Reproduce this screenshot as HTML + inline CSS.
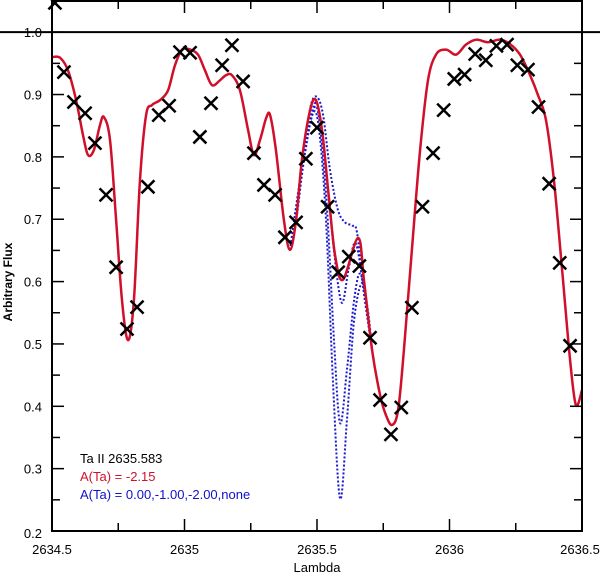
<!DOCTYPE html>
<html><head><meta charset="utf-8"><style>
html,body{margin:0;padding:0;background:#fff;}
svg{display:block;font-family:"Liberation Sans",sans-serif;}
</style></head><body>
<svg id="chart" width="600" height="575" viewBox="0 0 600 575" xmlns="http://www.w3.org/2000/svg">
<g id="marks"></g>
<g id="axes"></g>
<text transform="translate(12,282) rotate(-90)" text-anchor="middle" font-size="12" font-weight="bold">Arbitrary Flux</text>
<text x="317" y="572" text-anchor="middle" font-size="13">Lambda</text>
<text x="80" y="463" font-size="13" fill="#000">Ta II 2635.583</text>
<text x="80" y="481" font-size="13" fill="#d0102a">A(Ta) = -2.15</text>
<text x="80" y="499" font-size="13" fill="#1010cc">A(Ta) = 0.00,-1.00,-2.00,none</text>
</svg>
<script>
const obsX=[2634.511,2634.545,2634.583,2634.625,2634.662,2634.704,2634.742,2634.783,2634.821,2634.862,2634.903,2634.942,2634.983,2635.021,2635.058,2635.100,2635.142,2635.179,2635.221,2635.262,2635.300,2635.342,2635.379,2635.421,2635.458,2635.500,2635.540,2635.580,2635.620,2635.660,2635.700,2635.738,2635.779,2635.818,2635.858,2635.898,2635.938,2635.978,2636.018,2636.057,2636.097,2636.137,2636.177,2636.217,2636.256,2636.296,2636.336,2636.376,2636.416,2636.455];
const obsY=[1.047,.936,.888,.870,.822,.739,.623,.524,.559,.752,.867,.882,.968,.967,.832,.886,.947,.979,.921,.806,.755,.739,.671,.695,.797,.847,.72,.615,.64,.625,.51,.41,.355,.398,.558,.72,.806,.875,.925,.932,.965,.955,.978,.98,.947,.94,.88,.757,.63,.497];
const fitX=[2634.500,2634.530,2634.560,2634.591,2634.617,2634.636,2634.658,2634.681,2634.696,2634.719,2634.742,2634.764,2634.787,2634.809,2634.832,2634.855,2634.877,2634.908,2634.938,2634.964,2634.991,2635.021,2635.051,2635.077,2635.104,2635.134,2635.157,2635.179,2635.209,2635.240,2635.262,2635.285,2635.308,2635.323,2635.345,2635.375,2635.398,2635.421,2635.443,2635.474,2635.496,2635.519,2635.542,2635.568,2635.598,2635.655,2635.677,2635.708,2635.738,2635.760,2635.783,2635.806,2635.828,2635.858,2635.889,2635.919,2635.949,2635.987,2636.025,2636.062,2636.100,2636.145,2636.191,2636.228,2636.266,2636.304,2636.334,2636.364,2636.394,2636.425,2636.455,2636.477,2636.500];
const fitY=[.960,.959,.939,.891,.835,.803,.811,.851,.864,.827,.699,.570,.506,.570,.763,.867,.883,.891,.907,.947,.972,.972,.964,.939,.915,.923,.931,.931,.907,.843,.803,.827,.862,.867,.811,.699,.651,.699,.795,.875,.891,.843,.747,.643,.603,.670,.603,.490,.418,.386,.370,.394,.490,.651,.811,.923,.964,.972,.964,.980,.988,.984,.988,.981,.964,.931,.899,.859,.763,.619,.474,.402,.426];
const noneX=[2635.398,2635.421,2635.451,2635.477,2635.500,2635.523,2635.549,2635.579,2635.606,2635.632,2635.651,2635.674,2635.708];
const noneY=[.651,.699,.811,.883,.896,.867,.779,.715,.695,.690,.679,.591,.490];
const m0X=[2635.398,2635.421,2635.451,2635.485,2635.508,2635.534,2635.560,2635.587,2635.613,2635.640,2635.670,2635.692,2635.708];
const m0Y=[.651,.697,.795,.870,.843,.699,.442,.252,.377,.538,.598,.554,.490];
const m1X=[2635.398,2635.451,2635.489,2635.511,2635.538,2635.564,2635.587,2635.613,2635.640,2635.662,2635.685,2635.708];
const m1Y=[.651,.800,.878,.851,.715,.506,.373,.458,.570,.613,.570,.490];
const m2X=[2635.398,2635.451,2635.492,2635.515,2635.542,2635.568,2635.594,2635.619,2635.645,2635.674,2635.708];
const m2Y=[.651,.805,.886,.851,.747,.635,.566,.619,.662,.595,.490];
const xTicks=[2634.5,2635,2635.5,2636,2636.5];
const xTickLabels=["2634.5","2635","2635.5","2636","2636.5"];
const yTicks=[0.2,0.3,0.4,0.5,0.6,0.7,0.8,0.9,1.0];
const yTickLabels=["0.2","0.3","0.4","0.5","0.6","0.7","0.8","0.9","1.0"];

const L=52,R=582,T=1,B=531,X0=2634.5,X1=2636.5,Y0=0.2,Y1=1.05;
const sx=v=>L+(v-X0)/(X1-X0)*(R-L);
const sy=v=>B-(v-Y0)/(Y1-Y0)*(B-T);
const NS="http://www.w3.org/2000/svg";
const marks=document.getElementById('marks'),axes=document.getElementById('axes');
function mk(tag,attrs,parent){const e=document.createElementNS(NS,tag);for(const k in attrs)e.setAttribute(k,attrs[k]);parent.appendChild(e);return e;}
function smooth(xs,ys){
  const p=xs.map((x,i)=>[sx(x),sy(ys[i])]);
  let d='M'+p[0][0].toFixed(1)+','+p[0][1].toFixed(1);
  for(let i=0;i<p.length-1;i++){
    const a=p[Math.max(0,i-1)],b=p[i],c=p[i+1],e=p[Math.min(p.length-1,i+2)];
    const c1=[b[0]+(c[0]-a[0])/6,b[1]+(c[1]-a[1])/6],c2=[c[0]-(e[0]-b[0])/6,c[1]-(e[1]-b[1])/6];
    d+='C'+c1[0].toFixed(1)+','+c1[1].toFixed(1)+' '+c2[0].toFixed(1)+','+c2[1].toFixed(1)+' '+c[0].toFixed(1)+','+c[1].toFixed(1);
  }
  return d;
}
const clip=mk('clipPath',{id:'pc'},marks);mk('rect',{x:L,y:T,width:R-L,height:B-T},clip);
const g=mk('g',{'clip-path':'url(#pc)'},marks);
const blues=[[noneX,noneY,'model-none'],[m0X,m0Y,'model-0.00'],[m1X,m1Y,'model-minus1'],[m2X,m2Y,'model-minus2']];
blues.forEach(b=>{const p=mk('path',{d:smooth(b[0],b[1]),fill:'none',stroke:'#1a1acc','stroke-width':2,'stroke-dasharray':'2,2'},g);

});
const fit=mk('path',{d:smooth(fitX,fitY),fill:'none',stroke:'#d0102a','stroke-width':2.5},g);


const cont=mk('line',{x1:0,x2:600,y1:sy(1.0),y2:sy(1.0),stroke:'#000','stroke-width':2},marks);


obsX.forEach((x,i)=>{const cx=sx(x),cy=sy(obsY[i]),s=6.5;
const c=mk('path',{d:`M${cx-s},${cy-s}L${cx+s},${cy+s}M${cx-s},${cy+s}L${cx+s},${cy-s}`,stroke:'#000','stroke-width':2.5,fill:'none'},marks);

});
const frame=mk('rect',{x:L,y:T,width:R-L,height:B-T,fill:'none',stroke:'#000','stroke-width':2},axes);


for(let v=X0;v<=X1+1e-9;v+=0.25){const x=sx(v),len=(Math.abs(v*2-Math.round(v*2))<1e-6)?12:8;
mk('line',{x1:x,x2:x,y1:B,y2:B-len,stroke:'#000','stroke-width':1.5},axes);
mk('line',{x1:x,x2:x,y1:T,y2:T+len,stroke:'#000','stroke-width':1.5},axes);}
for(let v=0.2;v<=1.05+1e-9;v+=0.05){const y=sy(v),major=Math.abs(v*10-Math.round(v*10))<1e-6,len=major?12:8;
mk('line',{x1:L,x2:L+len,y1:y,y2:y,stroke:'#000','stroke-width':1.5},axes);
mk('line',{x1:R,x2:R-len,y1:y,y2:y,stroke:'#000','stroke-width':1.5},axes);}
xTicks.forEach((v,i)=>{const t=mk('text',{x:Math.min(sx(v),580),y:554,'text-anchor':'middle','font-size':13},axes);t.textContent=xTickLabels[i];

});
yTicks.forEach((v,i)=>{const t=mk('text',{x:42,y:sy(v)+(i===0?7:5),'text-anchor':'end','font-size':13},axes);t.textContent=yTickLabels[i];

});
</script>
</body></html>
